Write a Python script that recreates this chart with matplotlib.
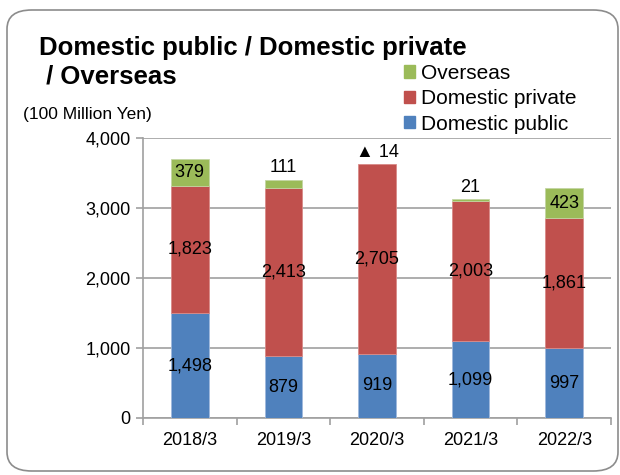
import numpy as np
import matplotlib.pyplot as plt
from matplotlib.patches import FancyBboxPatch, Patch
from matplotlib.ticker import FuncFormatter

plt.rcParams['font.family'] = ['Liberation Sans', 'DejaVu Sans']

years = ["2018/3", "2019/3", "2020/3", "2021/3", "2022/3"]
public = [1498, 879, 919, 1099, 997]
private = [1823, 2413, 2705, 2003, 1861]
overseas = [379, 111, -14, 21, 423]

c_pub = "#4F81BD"
c_pri = "#C0504D"
c_ovs = "#9BBB59"
gray = "#a0a0a0"

fig = plt.figure(figsize=(6.2, 4.75), dpi=100)

# rounded outer frame
frame = FancyBboxPatch((7/620, 4/475), 611/620, 461/475,
                       boxstyle="round,pad=0,rounding_size=0.04",
                       transform=fig.transFigure, fill=False,
                       edgecolor="#8c8c8c", linewidth=1.2)
fig.patches.append(frame)

ax = fig.add_axes([143/620, 1 - 418/475, (611 - 143)/620, (418 - 138)/475])

x = np.arange(len(years))
pub = np.array(public)
pri = np.array(private)
ovs = np.array(overseas)
w = 0.4

ax.bar(x, pub, w, color=c_pub, edgecolor="#9fb9dc", linewidth=0.6, zorder=3)
ax.bar(x, pri, w, bottom=pub, color=c_pri, edgecolor="#d98a88", linewidth=0.6, zorder=3)
# negative values stack down from zero, as in the source spreadsheet
ovs_bottom = np.where(ovs >= 0, pub + pri, 0)
ax.bar(x, ovs, w, bottom=ovs_bottom, color=c_ovs, edgecolor="#c3d6a3", linewidth=0.6, zorder=3)

fs = 13
for i in range(len(x)):
    ax.text(x[i], pub[i] / 2, f"{pub[i]:,}", ha="center", va="center", fontsize=fs, zorder=4)
    ax.text(x[i], pub[i] + pri[i] / 2, f"{pri[i]:,}", ha="center", va="center", fontsize=fs, zorder=4)
    top = pub[i] + pri[i]
    if ovs[i] >= 200:
        ax.text(x[i], top + ovs[i] / 2, f"{ovs[i]:,}", ha="center", va="center", fontsize=fs, zorder=4)
    else:
        lab = f"{ovs[i]:,}" if ovs[i] >= 0 else f"▲ {-ovs[i]:,}"
        ax.annotate(lab, (x[i], top + max(ovs[i], 0)), xytext=(0, 2.5), textcoords="offset points",
                    ha="center", va="bottom", fontsize=fs, zorder=4)

ax.set_xlim(-0.5, len(x) - 0.5)
ax.set_ylim(0, 4000)
ax.set_yticks([0, 1000, 2000, 3000, 4000])
ax.yaxis.set_major_formatter(FuncFormatter(lambda v, p: f"{int(v):,}"))
ax.set_xticks(x)
ax.set_xticklabels(years)
ax.set_xticks(np.arange(-0.5, len(x)), minor=True)
ax.tick_params(axis="x", which="major", length=0, pad=10, labelsize=13)
ax.tick_params(axis="x", which="minor", length=5, color=gray, width=1.2)
ax.tick_params(axis="y", length=5, color=gray, width=1.2, pad=4, labelsize=13)
ax.grid(axis="y", color=gray, linewidth=1.2, zorder=0)
for s in ["top", "right"]:
    ax.spines[s].set_visible(False)
ax.spines["left"].set_color(gray)
ax.spines["bottom"].set_color(gray)
ax.spines["left"].set_linewidth(1.2)
ax.spines["bottom"].set_linewidth(1.2)

# two-line title, one text per line
fig.text(39/620, 1 - 54.5/475, "Domestic public / Domestic private",
         fontsize=18.5, fontweight="bold", ha="left", va="baseline")
fig.text(39/620, 1 - 83/475, " / Overseas",
         fontsize=18.5, fontweight="bold", ha="left", va="baseline")
fig.text(87/620, 1 - 115/475, "(100 Million Yen)", fontsize=12.5, ha="center", va="center")

handles = [Patch(color=c_ovs), Patch(color=c_pri), Patch(color=c_pub)]
fig.legend(handles, ["Overseas", "Domestic private", "Domestic public"],
           loc="upper left", bbox_to_anchor=(404/620, 1 - 64/475), frameon=False,
           fontsize=15, handlelength=0.55, handleheight=0.55, handletextpad=0.25,
           labelspacing=0.3, borderaxespad=0, borderpad=0)

fig.savefig("out.png", dpi=100)
